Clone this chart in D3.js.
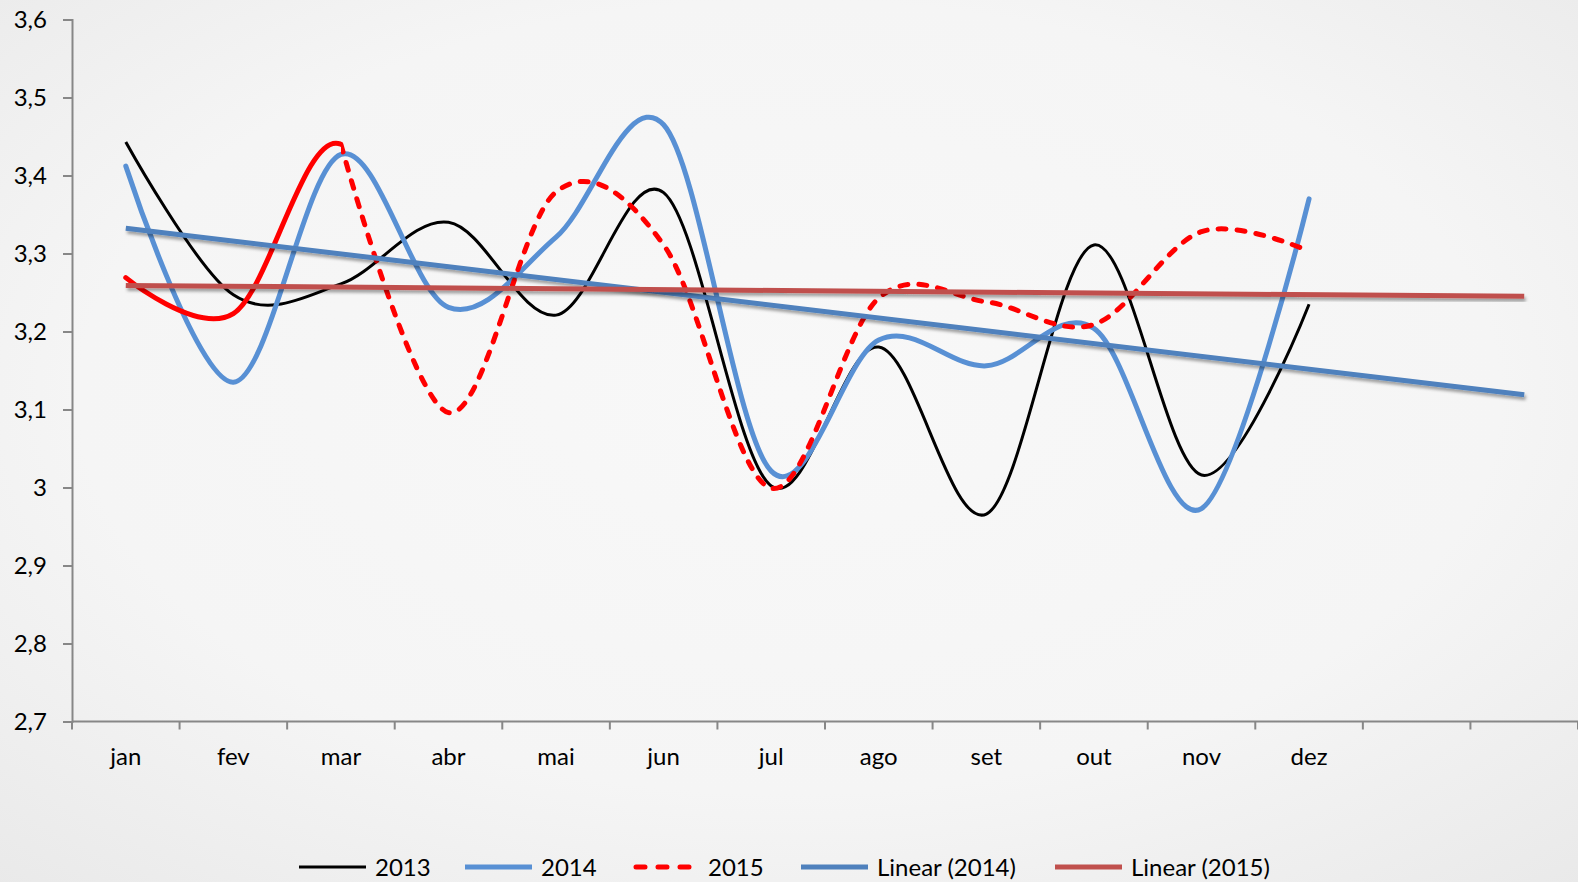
<!DOCTYPE html>
<html>
<head>
<meta charset="utf-8">
<script src="https://cdn.jsdelivr.net/npm/d3@7"></script>
<style>
  body { margin: 0; padding: 0; overflow: hidden; }
  svg { display: block; }
  text { font-family: Lato, "Open Sans", sans-serif; fill: #000; }
</style>
</head>
<body>
<div id="screen"></div>
<script>
var width = 1578;
var height = 882;

// categories (two empty slots after dez, as in the original axis)
var months = ['jan', 'fev', 'mar', 'abr', 'mai', 'jun', 'jul', 'ago', 'set', 'out', 'nov', 'dez'];
var slots = months.concat(['', ' ']);

var yTicks = [2.7, 2.8, 2.9, 3.0, 3.1, 3.2, 3.3, 3.4, 3.5, 3.6];

var values2013 = [3.443, 3.247, 3.261, 3.340, 3.221, 3.378, 3.002, 3.180, 2.966, 3.311, 3.016, 3.235];
var values2014 = [3.412, 3.135, 3.427, 3.231, 3.321, 3.465, 3.021, 3.189, 3.156, 3.204, 2.973, 3.370];
var values2015 = [3.269, 3.223, 3.440, 3.096, 3.379, 3.311, 2.999, 3.243, 3.238, 3.209, 3.328, 3.303];

var margin = { left: 72, right: 0, top: 19.5, bottom: 160.5 };

var svg = d3.select("#screen").append("svg")
  .attr("width", width).attr("height", height);

var defs = svg.append("defs");
var grad = defs.append("radialGradient").attr("id", "bg")
  .attr("cx", "50%").attr("cy", "45%").attr("r", "75%");
grad.append("stop").attr("offset", "0%").attr("stop-color", "#f8f8f8");
grad.append("stop").attr("offset", "60%").attr("stop-color", "#f5f5f5");
grad.append("stop").attr("offset", "100%").attr("stop-color", "#e9e9e9");

var shadow = defs.append("filter").attr("id", "shadow")
  .attr("x", "-5%").attr("y", "-50%").attr("width", "110%").attr("height", "200%");
shadow.append("feDropShadow").attr("dx", 1.5).attr("dy", 3).attr("stdDeviation", 1.8)
  .attr("flood-color", "#000").attr("flood-opacity", 0.35);

svg.append("rect").attr("width", width).attr("height", height).attr("fill", "url(#bg)");

var x = d3.scaleBand().domain(slots).range([margin.left, width - margin.right]);
var y = d3.scaleLinear().domain([2.7, 3.6]).range([height - margin.bottom, margin.top]);

var cx = function (i) { return x(slots[i]) + x.bandwidth() / 2; };

// axes
var axisColor = "#878787";
var yAxis = svg.append("g").attr("transform", "translate(" + margin.left + ",0)")
  .call(d3.axisLeft(y).tickValues(yTicks).tickSize(9).tickPadding(16)
    .tickFormat(function (d) {
      var s = d3.format(".1f")(d).replace(".", ",");
      return s === "3,0" ? "3" : s;
    }));
yAxis.select(".domain").attr("stroke", axisColor).attr("stroke-width", 2);
yAxis.selectAll(".tick line").attr("stroke", axisColor).attr("stroke-width", 2);
yAxis.selectAll(".tick text").attr("font-size", "24px").attr("font-family", "Lato").attr("fill", "#000");

var xAxisY = y(2.7);
var xAxis = svg.append("g");
xAxis.append("line")
  .attr("x1", margin.left).attr("x2", width).attr("y1", xAxisY).attr("y2", xAxisY)
  .attr("stroke", axisColor).attr("stroke-width", 2);
var bounds = d3.range(slots.length + 1).map(function (i) { return margin.left + i * x.bandwidth(); });
xAxis.selectAll("line.tk").data(bounds).enter().append("line").attr("class", "tk")
  .attr("x1", function (d) { return d; }).attr("x2", function (d) { return d; })
  .attr("y1", xAxisY).attr("y2", xAxisY + 8)
  .attr("stroke", axisColor).attr("stroke-width", 2);
xAxis.selectAll("text").data(months).enter().append("text")
  .attr("x", function (d, i) { return cx(i); })
  .attr("y", xAxisY + 43)
  .attr("text-anchor", "middle").attr("font-size", "24px")
  .text(function (d) { return d; });

// lines
var line = d3.line()
  .x(function (d, i) { return cx(i); })
  .y(function (d) { return y(d); })
  .curve(d3.curveCardinal.tension(0));

var plot = svg.append("g");

plot.append("path").attr("d", line(values2013))
  .attr("fill", "none").attr("stroke", "#000").attr("stroke-width", 3);

plot.append("path").attr("d", line(values2014))
  .attr("fill", "none").attr("stroke", "#5890d4").attr("stroke-width", 5).attr("stroke-linecap", "round");

// 2015: solid until mar, dashed afterwards
var splitX = cx(2);
defs.append("clipPath").attr("id", "clipSolid").append("rect")
  .attr("x", 0).attr("y", 0).attr("width", splitX).attr("height", height);
defs.append("clipPath").attr("id", "clipDash").append("rect")
  .attr("x", splitX).attr("y", 0).attr("width", width - splitX).attr("height", height);

plot.append("path").attr("d", line(values2015)).attr("clip-path", "url(#clipSolid)")
  .attr("fill", "none").attr("stroke", "#ff0000").attr("stroke-width", 5).attr("stroke-linecap", "round");
plot.append("path").attr("d", d3.line()
    .x(function (d, i) { return cx(i + 2); })
    .y(function (d) { return y(d); })
    .curve(d3.curveCardinal.tension(0))(values2015.slice(2)))
  .attr("clip-path", "url(#clipDash)")
  .attr("fill", "none").attr("stroke", "#ff0000").attr("stroke-width", 5)
  .attr("stroke-dasharray", "8,11").attr("stroke-linecap", "round");

// trendlines (least squares, extended to slot 14)
var trend = function (vals) {
  var n = vals.length;
  var xs = d3.range(1, n + 1);
  var mx = d3.mean(xs), my = d3.mean(vals);
  var sxy = d3.sum(xs, function (xv, i) { return (xv - mx) * (vals[i] - my); });
  var sxx = d3.sum(xs, function (xv) { return (xv - mx) * (xv - mx); });
  var b = sxy / sxx, a = my - b * mx;
  return [a + b * 1, a + b * slots.length];
};

var trendLine = function (vals, color) {
  var t = trend(vals);
  plot.append("line")
    .attr("x1", cx(0)).attr("y1", y(t[0]))
    .attr("x2", cx(slots.length - 1)).attr("y2", y(t[1]))
    .attr("stroke", color).attr("stroke-width", 5)
    .attr("filter", "url(#shadow)");
};
trendLine(values2014, "#4f81bd");
trendLine(values2015, "#c0504d");

// legend
var legendItems = [
  { name: "2013", color: "#000", w: 3, dash: null, x: 299 },
  { name: "2014", color: "#5890d4", w: 5, dash: null, x: 465 },
  { name: "2015", color: "#ff0000", w: 5, dash: "9,13", x: 632 },
  { name: "Linear (2014)", color: "#4f81bd", w: 5, dash: null, x: 801 },
  { name: "Linear (2015)", color: "#c0504d", w: 5, dash: null, x: 1055 }
];
var legendY = 867;
var lg = svg.append("g");
legendItems.forEach(function (d) {
  lg.append("line")
    .attr("x1", d.x + (d.dash ? 4 : 0)).attr("x2", d.x + 67).attr("y1", legendY).attr("y2", legendY)
    .attr("stroke", d.color).attr("stroke-width", d.w)
    .attr("stroke-dasharray", d.dash)
    .attr("stroke-linecap", d.dash ? "round" : "butt");
  lg.append("text").attr("x", d.x + 76).attr("y", legendY + 9)
    .attr("font-size", "24px").text(d.name);
});
</script>
</body>
</html>
